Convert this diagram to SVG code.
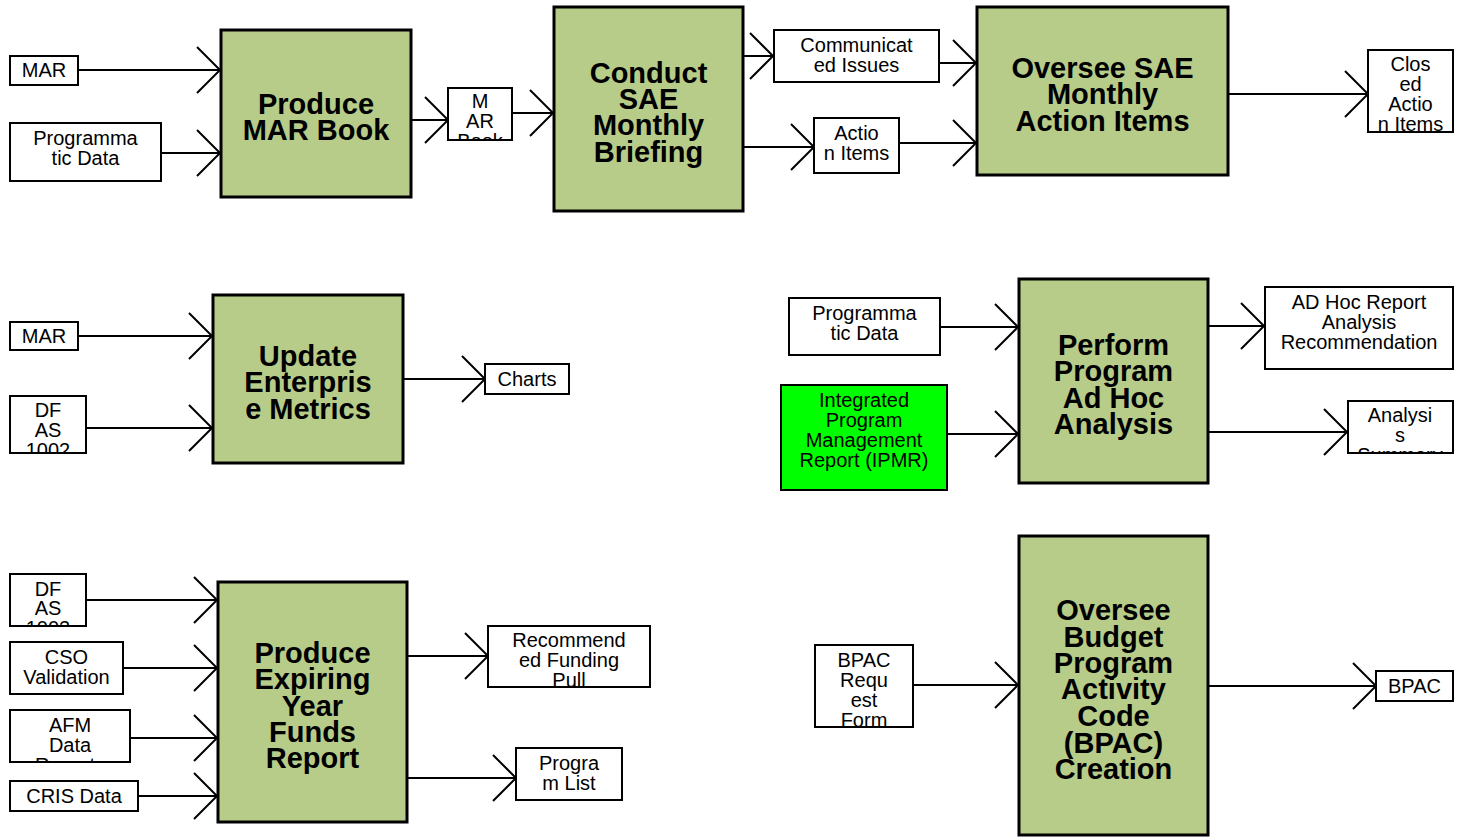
<svg xmlns="http://www.w3.org/2000/svg" width="1459" height="837" viewBox="0 0 1459 837">
<style>
.proc{fill:#b7cc88;stroke:#000;stroke-width:3}
.data{fill:#fff;stroke:#000;stroke-width:2}
.ipmr{fill:#00ff00;stroke:#000;stroke-width:2}
.lbl{font-family:"Liberation Sans",Arial,sans-serif;font-size:20px;text-anchor:middle;fill:#000}
.ttl{font-family:"Liberation Sans",Arial,sans-serif;font-size:29px;font-weight:bold;text-anchor:middle;fill:#000}
.conn{stroke:#000;stroke-width:2;fill:none;marker-end:url(#chev)}
</style>
<defs>
<marker id="chev" markerUnits="userSpaceOnUse" markerWidth="26" markerHeight="50" refX="23" refY="24" orient="auto" overflow="visible">
<path d="M0,1 L23,24 L0,47" fill="none" stroke="#000" stroke-width="2"/>
</marker>
<clipPath id="c-marbook"><rect x="449" y="89" width="62" height="50"/></clipPath>
<clipPath id="c-closed"><rect x="1369" y="51" width="83" height="80"/></clipPath>
<clipPath id="c-dfas1"><rect x="11" y="397" width="74" height="55"/></clipPath>
<clipPath id="c-analysis"><rect x="1349" y="402" width="103" height="50"/></clipPath>
<clipPath id="c-dfas2"><rect x="11" y="575" width="74" height="50"/></clipPath>
<clipPath id="c-afm"><rect x="11" y="711" width="118" height="50"/></clipPath>
<clipPath id="c-recfund"><rect x="489" y="627" width="160" height="59"/></clipPath>
<clipPath id="c-bpacreq"><rect x="816" y="646" width="96" height="80"/></clipPath>
</defs>
<rect width="1459" height="837" fill="#fff"/>

<g id="connectors">
<line class="conn" x1="78" y1="70" x2="220" y2="70"/>
<line class="conn" x1="161" y1="153" x2="220" y2="153"/>
<line class="conn" x1="411" y1="120" x2="448" y2="120"/>
<line class="conn" x1="512" y1="113" x2="553" y2="113"/>
<line class="conn" x1="743" y1="56" x2="773" y2="56"/>
<line class="conn" x1="743" y1="147" x2="814" y2="147"/>
<line class="conn" x1="939" y1="63" x2="976" y2="63"/>
<line class="conn" x1="899" y1="143" x2="976" y2="143"/>
<line class="conn" x1="1228" y1="94" x2="1368" y2="94"/>
<line class="conn" x1="78" y1="336" x2="212" y2="336"/>
<line class="conn" x1="86" y1="428" x2="212" y2="428"/>
<line class="conn" x1="403" y1="379" x2="485" y2="379"/>
<line class="conn" x1="940" y1="327" x2="1018" y2="327"/>
<line class="conn" x1="947" y1="434" x2="1018" y2="434"/>
<line class="conn" x1="1208" y1="326" x2="1264" y2="326"/>
<line class="conn" x1="1208" y1="432" x2="1347" y2="432"/>
<line class="conn" x1="86" y1="600" x2="217" y2="600"/>
<line class="conn" x1="123" y1="668" x2="217" y2="668"/>
<line class="conn" x1="130" y1="738" x2="217" y2="738"/>
<line class="conn" x1="138" y1="796" x2="217" y2="796"/>
<line class="conn" x1="407" y1="656" x2="488" y2="656"/>
<line class="conn" x1="407" y1="778" x2="516" y2="778"/>
<line class="conn" x1="913" y1="685" x2="1018" y2="685"/>
<line class="conn" x1="1208" y1="686" x2="1376" y2="686"/>
</g>

<g id="mar-top"><rect class="data" x="10" y="56" width="68" height="29"/><text class="lbl" x="44" y="77">MAR</text></g>
<g id="progdata-top"><rect class="data" x="10" y="123" width="151" height="58"/><text class="lbl"><tspan x="85.5" y="145">Programma</tspan><tspan x="85.5" y="165">tic Data</tspan></text></g>
<g id="produce-mar-book"><rect class="proc" x="221" y="30" width="190" height="167"/><text class="ttl"><tspan x="316" y="114">Produce</tspan><tspan x="316" y="140">MAR Book</tspan></text></g>
<g id="mar-book"><rect class="data" x="448" y="88" width="64" height="52"/><text class="lbl" clip-path="url(#c-marbook)"><tspan x="480" y="108">M</tspan><tspan x="480" y="128">AR</tspan><tspan x="480" y="148">Book</tspan></text></g>
<g id="conduct-sae"><rect class="proc" x="554" y="7" width="189" height="204"/><text class="ttl"><tspan x="648.5" y="83">Conduct</tspan><tspan x="648.5" y="109">SAE</tspan><tspan x="648.5" y="135">Monthly</tspan><tspan x="648.5" y="162">Briefing</tspan></text></g>
<g id="communicated-issues"><rect class="data" x="774" y="30" width="165" height="52"/><text class="lbl"><tspan x="856.5" y="52">Communicat</tspan><tspan x="856.5" y="72">ed Issues</tspan></text></g>
<g id="action-items"><rect class="data" x="814" y="118" width="85" height="55"/><text class="lbl"><tspan x="856.5" y="140">Actio</tspan><tspan x="856.5" y="160">n Items</tspan></text></g>
<g id="oversee-sae"><rect class="proc" x="977" y="7" width="251" height="168"/><text class="ttl"><tspan x="1102.5" y="78">Oversee SAE</tspan><tspan x="1102.5" y="104">Monthly</tspan><tspan x="1102.5" y="131">Action Items</tspan></text></g>
<g id="closed-action-items"><rect class="data" x="1368" y="50" width="85" height="82"/><text class="lbl" clip-path="url(#c-closed)"><tspan x="1410.5" y="71">Clos</tspan><tspan x="1410.5" y="91">ed</tspan><tspan x="1410.5" y="111">Actio</tspan><tspan x="1410.5" y="131">n Items</tspan></text></g>

<g id="mar-mid"><rect class="data" x="10" y="322" width="68" height="28"/><text class="lbl" x="44" y="343">MAR</text></g>
<g id="dfas-mid"><rect class="data" x="10" y="396" width="76" height="57"/><text class="lbl" clip-path="url(#c-dfas1)"><tspan x="48" y="417">DF</tspan><tspan x="48" y="437">AS</tspan><tspan x="48" y="457">1002</tspan></text></g>
<g id="update-metrics"><rect class="proc" x="213" y="295" width="190" height="168"/><text class="ttl"><tspan x="308" y="366">Update</tspan><tspan x="308" y="392">Enterpris</tspan><tspan x="308" y="419">e Metrics</tspan></text></g>
<g id="charts"><rect class="data" x="485" y="364" width="84" height="30"/><text class="lbl" x="527" y="386">Charts</text></g>

<g id="progdata-mid"><rect class="data" x="789" y="298" width="151" height="57"/><text class="lbl"><tspan x="864.5" y="320">Programma</tspan><tspan x="864.5" y="340">tic Data</tspan></text></g>
<g id="ipmr"><rect class="ipmr" x="781" y="385" width="166" height="105"/><text class="lbl"><tspan x="864" y="407">Integrated</tspan><tspan x="864" y="427">Program</tspan><tspan x="864" y="447">Management</tspan><tspan x="864" y="467">Report (IPMR)</tspan></text></g>
<g id="perform-adhoc"><rect class="proc" x="1019" y="279" width="189" height="204"/><text class="ttl"><tspan x="1113.5" y="355">Perform</tspan><tspan x="1113.5" y="381">Program</tspan><tspan x="1113.5" y="408">Ad Hoc</tspan><tspan x="1113.5" y="434">Analysis</tspan></text></g>
<g id="adhoc-report"><rect class="data" x="1265" y="287" width="188" height="82"/><text class="lbl"><tspan x="1359" y="309">AD Hoc Report</tspan><tspan x="1359" y="329">Analysis</tspan><tspan x="1359" y="349">Recommendation</tspan></text></g>
<g id="analysis-summary"><rect class="data" x="1348" y="401" width="105" height="52"/><text class="lbl" clip-path="url(#c-analysis)"><tspan x="1400" y="422">Analysi</tspan><tspan x="1400" y="442">s</tspan><tspan x="1400" y="462">Summary</tspan></text></g>

<g id="dfas-bot"><rect class="data" x="10" y="574" width="76" height="52"/><text class="lbl" clip-path="url(#c-dfas2)"><tspan x="48" y="596">DF</tspan><tspan x="48" y="615">AS</tspan><tspan x="48" y="635">1002</tspan></text></g>
<g id="cso-validation"><rect class="data" x="10" y="642" width="113" height="52"/><text class="lbl"><tspan x="66.5" y="664">CSO</tspan><tspan x="66.5" y="684">Validation</tspan></text></g>
<g id="afm-data"><rect class="data" x="10" y="710" width="120" height="52"/><text class="lbl" clip-path="url(#c-afm)"><tspan x="70" y="732">AFM</tspan><tspan x="70" y="752">Data</tspan><tspan x="70" y="772">Reports</tspan></text></g>
<g id="cris-data"><rect class="data" x="10" y="781" width="128" height="30"/><text class="lbl" x="74" y="803">CRIS Data</text></g>
<g id="produce-expiring"><rect class="proc" x="218" y="582" width="189" height="240"/><text class="ttl"><tspan x="312.5" y="663">Produce</tspan><tspan x="312.5" y="689">Expiring</tspan><tspan x="312.5" y="716">Year</tspan><tspan x="312.5" y="742">Funds</tspan><tspan x="312.5" y="768">Report</tspan></text></g>
<g id="recommended-funding"><rect class="data" x="488" y="626" width="162" height="61"/><text class="lbl" clip-path="url(#c-recfund)"><tspan x="569" y="647">Recommend</tspan><tspan x="569" y="667">ed Funding</tspan><tspan x="569" y="687">Pull</tspan></text></g>
<g id="program-list"><rect class="data" x="516" y="748" width="106" height="52"/><text class="lbl"><tspan x="569" y="770">Progra</tspan><tspan x="569" y="790">m List</tspan></text></g>

<g id="bpac-request"><rect class="data" x="815" y="645" width="98" height="82"/><text class="lbl" clip-path="url(#c-bpacreq)"><tspan x="864" y="667">BPAC</tspan><tspan x="864" y="687">Requ</tspan><tspan x="864" y="707">est</tspan><tspan x="864" y="727">Form</tspan></text></g>
<g id="oversee-bpac"><rect class="proc" x="1019" y="536" width="189" height="299"/><text class="ttl"><tspan x="1113.5" y="620">Oversee</tspan><tspan x="1113.5" y="647">Budget</tspan><tspan x="1113.5" y="673">Program</tspan><tspan x="1113.5" y="699">Activity</tspan><tspan x="1113.5" y="726">Code</tspan><tspan x="1113.5" y="753">(BPAC)</tspan><tspan x="1113.5" y="779">Creation</tspan></text></g>
<g id="bpac"><rect class="data" x="1376" y="671" width="77" height="30"/><text class="lbl" x="1414.5" y="693">BPAC</text></g>
</svg>
